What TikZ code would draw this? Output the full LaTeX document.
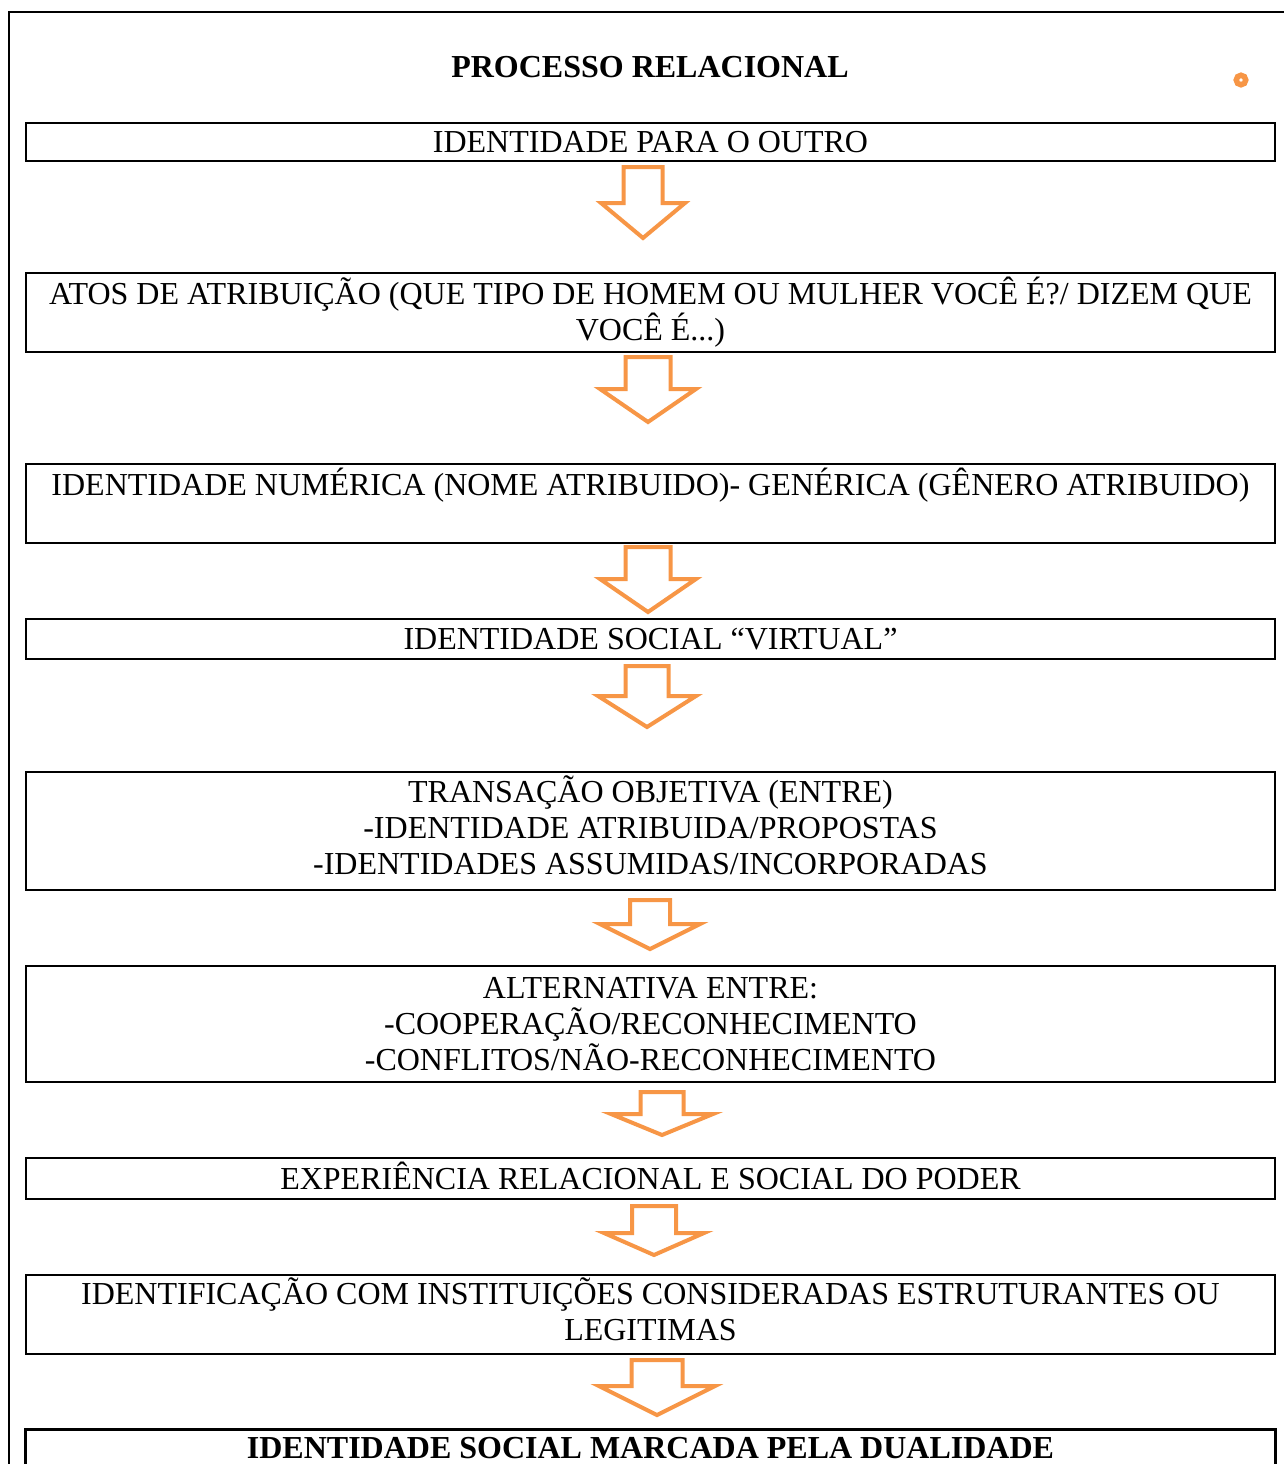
\documentclass[tikz,border=0pt]{standalone}
\usepackage{fontspec}
\setmainfont{Liberation Serif}
\definecolor{accorange}{HTML}{F79646}
\tikzset{
  stagebox/.style={draw=black, line width=1.25pt, minimum width=624.5pt, inner sep=0pt,
    align=center, font=\fontsize{16}{18}\selectfont},
  blockarrow/.style={draw=accorange, line width=2pt, line join=miter, fill=white},
  titletext/.style={inner sep=0pt, font=\fontsize{16}{18}\selectfont\bfseries},
  frame/.style={draw=black, line width=1pt}
}
% \barrow{cx}{top}{shaft half}{head half}{shoulder}{tip}
\newcommand\barrow[6]{%
  \draw[blockarrow] ({#1-#3},#2) -- ({#1+#3},#2) -- ({#1+#3},#5) -- ({#1+#4},#5)
    -- (#1,#6) -- ({#1-#4},#5) -- ({#1-#3},#5) -- cycle;}
% extra depth to lift text inside a box
\newcommand\lift[1]{\rule[-#1]{0pt}{0pt}}
\begin{document}
\begin{tikzpicture}[x=0.5pt,y=-0.5pt]
\useasboundingbox (0,0) rectangle (1284,1464);
% outer frame (only top and left edges visible)
\draw[frame] (9,1480) -- (9,12) -- (1300,12);
% title and dot
\node[titletext] (title) at (650,67) {PROCESSO RELACIONAL};
\node[circle, draw=accorange, line width=2.75pt, minimum size=4.75pt, inner sep=0pt] (dot) at (1241,80) {};
% boxes
\node[stagebox, minimum height=19pt] (b1) at (650.5,142) {IDENTIDADE PARA O OUTRO};
\node[stagebox, minimum height=39.5pt] (b2) at (650.5,312.5) {ATOS DE ATRIBUIÇÃO (QUE TIPO DE HOMEM OU MULHER VOCÊ É?/ DIZEM QUE\\VOCÊ É...)};
\node[stagebox, minimum height=39.5pt] (b3) at (650.5,503.5) {IDENTIDADE NUMÉRICA (NOME ATRIBUIDO)- GENÉRICA (GÊNERO ATRIBUIDO)\\\mbox{}\lift{4pt}};
\node[stagebox, minimum height=20pt] (b4) at (650.5,639) {IDENTIDADE SOCIAL “VIRTUAL”};
\node[stagebox, minimum height=59pt] (b5) at (650.5,831) {TRANSAÇÃO OBJETIVA (ENTRE)\\-IDENTIDADE ATRIBUIDA/PROPOSTAS\\-IDENTIDADES ASSUMIDAS/INCORPORADAS\lift{6pt}};
\node[stagebox, minimum height=58pt] (b6) at (650.5,1024) {ALTERNATIVA ENTRE:\\-COOPERAÇÃO/RECONHECIMENTO\\-CONFLITOS/NÃO-RECONHECIMENTO};
\node[stagebox, minimum height=20.5pt] (b7) at (650.5,1178.5) {EXPERIÊNCIA RELACIONAL E SOCIAL DO PODER\lift{3pt}};
\node[stagebox, minimum height=39.5pt] (b8) at (650.5,1314.5) {IDENTIFICAÇÃO COM INSTITUIÇÕES CONSIDERADAS ESTRUTURANTES OU\\LEGITIMAS\lift{5pt}};
\node[inner sep=0pt, minimum width=624.5pt, minimum height=18pt, font=\fontsize{16}{18}\selectfont\bfseries] (b9) at (650.5,1448) {IDENTIDADE SOCIAL MARCADA PELA DUALIDADE};
\draw[line width=1.25pt] ([yshift=-6pt]b9.south west) -- (b9.north west) -- (b9.north east) -- ([yshift=-6pt]b9.south east);
% block arrows
\barrow{643}{167}{19.5}{42}{203}{238}
\barrow{648}{357}{22.5}{48}{389}{422}
\barrow{648}{547}{22.5}{48}{579}{612}
\barrow{647}{666}{21.5}{49}{696}{727}
\barrow{650}{900}{20}{50}{924}{949}
\barrow{662}{1092}{21.5}{51}{1114}{1135}
\barrow{654}{1206}{22}{50}{1233}{1255}
\barrow{657}{1360}{25.5}{58}{1386}{1415}
\end{tikzpicture}
\end{document}
